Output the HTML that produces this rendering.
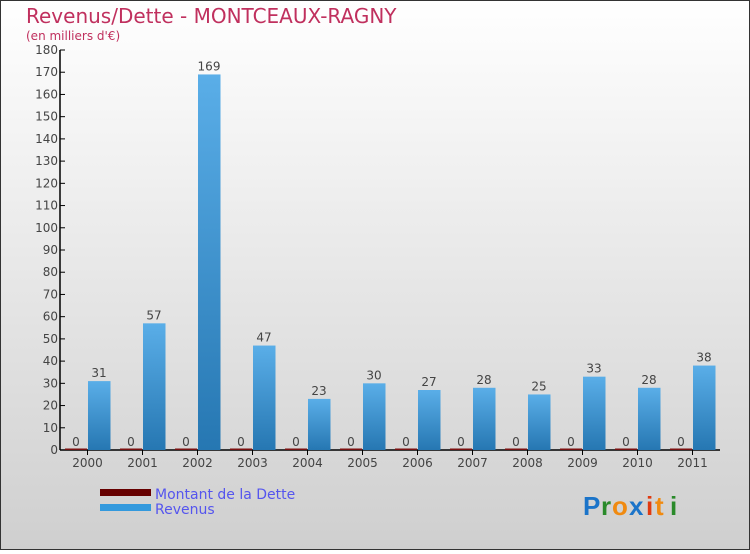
<!DOCTYPE html>
<html><head><meta charset="utf-8"><style>
body{margin:0}
#c{position:relative;width:750px;height:550px;font-family:"DejaVu Sans","Liberation Sans",sans-serif;}
</style></head><body>
<div id="c">
<svg id="s" width="750" height="550" xmlns="http://www.w3.org/2000/svg">
<defs>
<linearGradient id="bg" x1="0" y1="0" x2="0" y2="1"><stop offset="0" stop-color="#ffffff"/><stop offset="1" stop-color="#cfcfcf"/></linearGradient>
<linearGradient id="rv" x1="0" y1="0" x2="0" y2="1"><stop offset="0" stop-color="#5aaee8"/><stop offset="1" stop-color="#2677b2"/></linearGradient>
</defs>
<rect x="0.5" y="0.5" width="749" height="549" fill="url(#bg)" stroke="#333"/>
<text x="26" y="23" font-size="20" fill="#c0305e">Revenus/Dette - MONTCEAUX-RAGNY</text>
<text x="26" y="40" font-size="12" fill="#c0305e">(en milliers d'€)</text>
<g id="plot"></g>
<rect x="100" y="489" width="51" height="7" fill="#660000"/>
<text x="155" y="499" font-size="14" fill="#5555ee">Montant de la Dette</text>
<rect x="100" y="504" width="51" height="7" fill="#3399dd"/>
<text x="155" y="514" font-size="14" fill="#5555ee">Revenus</text>
<g font-size="26" font-family="Liberation Sans, sans-serif" font-weight="bold">
<text x="583" y="515" fill="#1b74c9">P</text><text x="601" y="515" fill="#2a8a2a">r</text><text x="612" y="515" fill="#f08a10">o</text><text x="629" y="515" fill="#1b74c9">x</text><text x="646" y="515" fill="#e03a10">i</text><text x="655" y="515" fill="#f08a10">t</text><text x="670" y="515" fill="#2a8a2a">i</text>
</g>
</svg>
</div>
<script>
const years=["2000","2001","2002","2003","2004","2005","2006","2007","2008","2009","2010","2011"];
const dette=[0,0,0,0,0,0,0,0,0,0,0,0];
const revenus=[31,57,169,47,23,30,27,28,25,33,28,38];
const yTicks=[0,10,20,30,40,50,60,70,80,90,100,110,120,130,140,150,160,170,180];
const NS="http://www.w3.org/2000/svg";
const g=document.getElementById("plot");
const x0=60,y0=450,yTop=50,cw=55,ymax=180;
function y(v){return y0-(v/ymax)*(y0-yTop);}
function xc(i){return x0+cw*i+cw/2;}
function mk(t,a,p){const e=document.createElementNS(NS,t);for(const k in a)e.setAttribute(k,a[k]);(p||g).appendChild(e);return e;}
let ax=mk("line",{x1:x0,y1:yTop,x2:x0,y2:y0,stroke:"#000","stroke-width":1.5});


let bx=mk("line",{x1:x0,y1:y0,x2:x0+cw*years.length,y2:y0,stroke:"#000","stroke-width":1.5});


yTicks.forEach(v=>{
 const t=mk("line",{x1:x0,y1:y(v),x2:x0+5,y2:y(v),stroke:"#000"});
 
 
 const l=mk("text",{x:x0-2,y:y(v)+4,"font-size":12,fill:"#444","text-anchor":"end"});
 
 
 l.textContent=v;
});
years.forEach((yr,i)=>{
 const c=xc(i);
 const t=mk("line",{x1:c,y1:y0,x2:c,y2:y0+5,stroke:"#000"});
 
 
 const l=mk("text",{x:c,y:y0+17,"font-size":12,fill:"#444","text-anchor":"middle"});
 
 
 l.textContent=yr;
 const hd=Math.max(1.5,y0-y(dette[i]));
 const d=mk("rect",{x:c-22.5,y:y0-hd,width:22,height:hd,fill:"#7a1010"});
 
 
 const dl=mk("text",{x:c-11.5,y:y(dette[i])-4,"font-size":12,fill:"#444","text-anchor":"middle"});
 
 
 dl.textContent=dette[i];
 const r=mk("rect",{x:c+0.5,y:y(revenus[i]),width:22.5,height:y0-y(revenus[i]),fill:"url(#rv)"});
 
 
 const rl=mk("text",{x:c+11.5,y:y(revenus[i])-4,"font-size":12,fill:"#444","text-anchor":"middle"});
 
 
 rl.textContent=revenus[i];
});
</script>
</body></html>
